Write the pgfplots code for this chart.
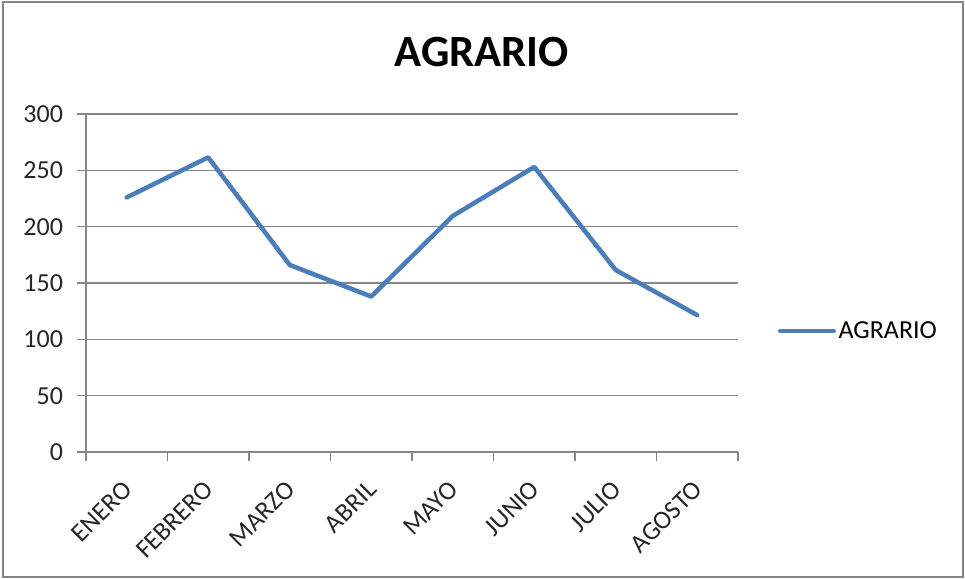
\documentclass[border=0pt]{standalone}
\usepackage{pgfplots}
\pgfplotsset{compat=1.18}
\usepackage{fontspec}
\setmainfont{Carlito}
\definecolor{gridgray}{HTML}{868686}
\definecolor{xlblue}{HTML}{4A7EBB}
\begin{document}
\begin{tikzpicture}
\useasboundingbox (-64.5pt,-95.25pt) rectangle (659.25pt,339pt);
\draw[gridgray, line width=1.5pt] (-62.5pt,-93.9pt) rectangle (658.1pt,337.2pt);
\begin{axis}[
  at={(0,0)}, anchor=south west,
  scale only axis,
  width=489pt, height=253.5pt,
  xmin=-0.5, xmax=7.5,
  ymin=0, ymax=300,
  ytick={0,50,...,300},
  xtick={0,...,7},
  xticklabels={ENERO,FEBRERO,MARZO,ABRIL,MAYO,JUNIO,JULIO,AGOSTO},
  minor xtick={-0.5,0.5,...,7.5},
  major x tick style={draw=none},
  axis x line=bottom, axis y line=left,
  axis line style={-, gridgray, line width=1.1pt},
  tick style={gridgray, line width=1.1pt},
  tick align=outside,
  major tick length=6.75pt, minor tick length=6.75pt,
  ymajorgrids,
  grid style={gridgray, line width=1.1pt},
  /pgf/number format/assume math mode=true,
  ticklabel style={font=\fontsize{19.5}{20}\selectfont, text=black!85},
  yticklabel style={xshift=-7pt},
  xticklabel style={rotate=45, anchor=north east, inner sep=1pt, xshift=-11.3pt, yshift=-5.7pt},
  every axis title shift=0pt,
  title={AGRARIO},
  title style={at={(0.607,1.14)}, anchor=base, font=\fontsize{33.5}{36}\selectfont\bfseries},
  legend style={draw=none, fill=none, at={(1.061,0.358)}, anchor=west,
    font=\fontsize{19.5}{20}\selectfont, inner sep=0pt},
  legend image code/.code={\draw[#1, line cap=round] (0pt,0pt) -- (40pt,0pt);},
  legend cell align=left,
]
\addplot[xlblue, line width=3.4pt, line join=round, line cap=round] coordinates {
(0,226) (1,261.5) (2,166) (3,138) (4,209.5) (5,253) (6,161.5) (7,121.5)
};
\addlegendentry{AGRARIO}
\end{axis}
\end{tikzpicture}
\end{document}
